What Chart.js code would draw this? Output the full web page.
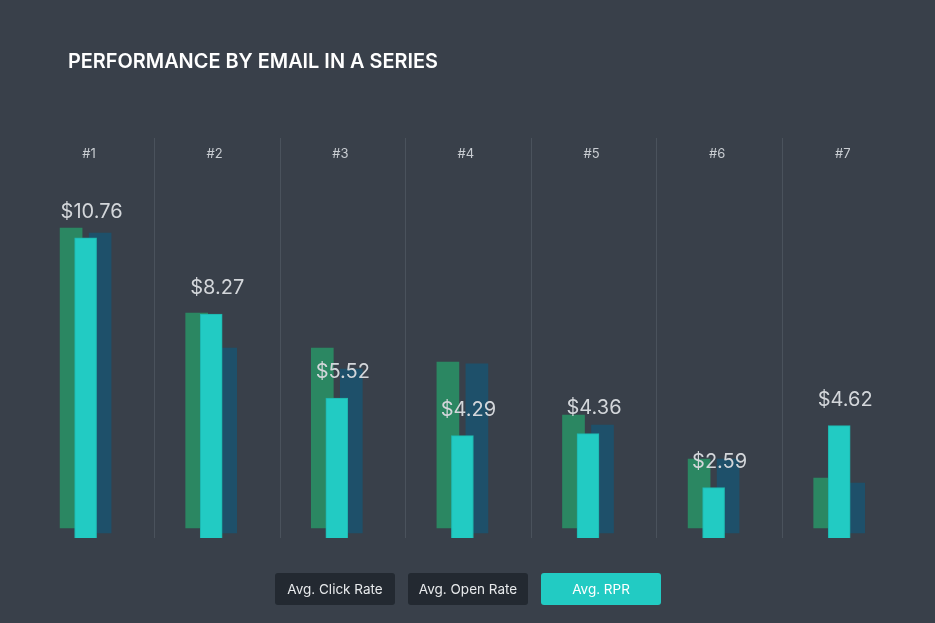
<!DOCTYPE html>
<html>
<head>
<meta charset="utf-8">
<script src="https://cdn.jsdelivr.net/npm/chart.js@4"></script>
<style>
    body { margin: 0; background: #39404a; font-family: Inter, sans-serif; }
    .wrap { position: relative; width: 935px; height: 623px; overflow: hidden; }
    canvas { position: absolute; left: 0; top: 0; }
    h1 { position: absolute; left: 68px; top: 49px; margin: 0; font-size: 19.9px; font-weight: 600; color: #fff; letter-spacing: 0; }
    .legend { position: absolute; top: 573px; left: 275px; display: flex; gap: 13px; }
    .legend div { width: 120px; height: 32px; line-height: 32px; text-align: center; border-radius: 3px;
                  background: #232931; color: #e8eaec; font-size: 13.5px; }
    .legend .on { background: #22cbc3; color: #fff; }
</style>
</head>
<body>
<div class="wrap">
    <canvas id="emailChart" width="935" height="623"></canvas>
    <h1>PERFORMANCE BY EMAIL IN A SERIES</h1>
    <div class="legend">
        <div>Avg. Click Rate</div>
        <div>Avg. Open Rate</div>
        <div class="on">Avg. RPR</div>
    </div>
</div>
<script>
const emails = ['#1', '#2', '#3', '#4', '#5', '#6', '#7'];
const clickRate = [3.00, 2.15, 1.80, 1.66, 1.13, 0.69, 0.50];
const openRate = [50.0, 30.8, 27.3, 28.2, 18.0, 12.3, 8.3];
const rpr = [10.76, 8.27, 5.52, 4.29, 4.36, 2.59, 4.62];

// shifts each dataset sideways so the bars overlap like the design
const shiftBars = {
    id: 'shiftBars',
    beforeDatasetDraw(chart, args) {
        const dx = chart.data.datasets[args.index].shift || 0;
        chart.ctx.save();
        chart.ctx.translate(dx, 0);
    },
    afterDatasetDraw(chart) {
        chart.ctx.restore();
    }
};

const textLabels = {
    id: 'textLabels',
    afterDatasetsDraw(chart) {
        const { ctx, scales } = chart;
        const x = scales.x, y = scales.yRpr;
        ctx.save();
        ctx.textAlign = 'center';
        ctx.textBaseline = 'middle';
        emails.forEach((name, i) => {
            const cx = x.getPixelForValue(i);
            ctx.fillStyle = '#c9cdd2';
            ctx.font = '13px Inter, sans-serif';
            ctx.fillText(name, cx - 2.5, 154);
            ctx.fillStyle = '#d3d6da';
            ctx.font = '20px Inter, sans-serif';
            ctx.fillText('$' + rpr[i].toFixed(2), cx, y.getPixelForValue(rpr[i]) - 26);
        });
        ctx.restore();
    }
};

new Chart(document.getElementById('emailChart'), {
    type: 'bar',
    data: {
        labels: emails,
        datasets: [
            { label: 'Avg. Click Rate', data: clickRate, yAxisID: 'yClick', backgroundColor: '#2b8762',
              order: 1, shift: -20.5 },
            { label: 'Avg. RPR', data: rpr, yAxisID: 'yRpr', backgroundColor: '#22cbc3',
              borderColor: '#1fb5ae', borderWidth: 1, borderSkipped: 'bottom', order: 0, shift: -6 },
            { label: 'Avg. Open Rate', data: openRate, yAxisID: 'yOpen', backgroundColor: '#1e506a',
              order: 1, shift: 8.5 }
        ]
    },
    options: {
        responsive: false,
        animation: false,
        layout: { padding: { left: 28.8, right: 27, top: 138, bottom: 85 } },
        datasets: { bar: { grouped: false, barThickness: 22 } },
        plugins: { legend: { display: false }, tooltip: { enabled: false } },
        scales: {
            x: {
                ticks: { display: false },
                border: { display: false },
                grid: {
                    drawTicks: false,
                    color: c => (c.index > 0 && c.index < emails.length) ? '#4a525c' : 'rgba(0,0,0,0)'
                }
            },
            yRpr: { display: false, beginAtZero: false, min: 0.943, max: 14.03 },
            yClick: { display: false, beginAtZero: false, min: -0.1, max: 3.9 },
            yOpen: { display: false, beginAtZero: false, min: -0.833, max: 65.833 }
        }
    },
    plugins: [shiftBars, textLabels]
});
</script>
</body>
</html>
